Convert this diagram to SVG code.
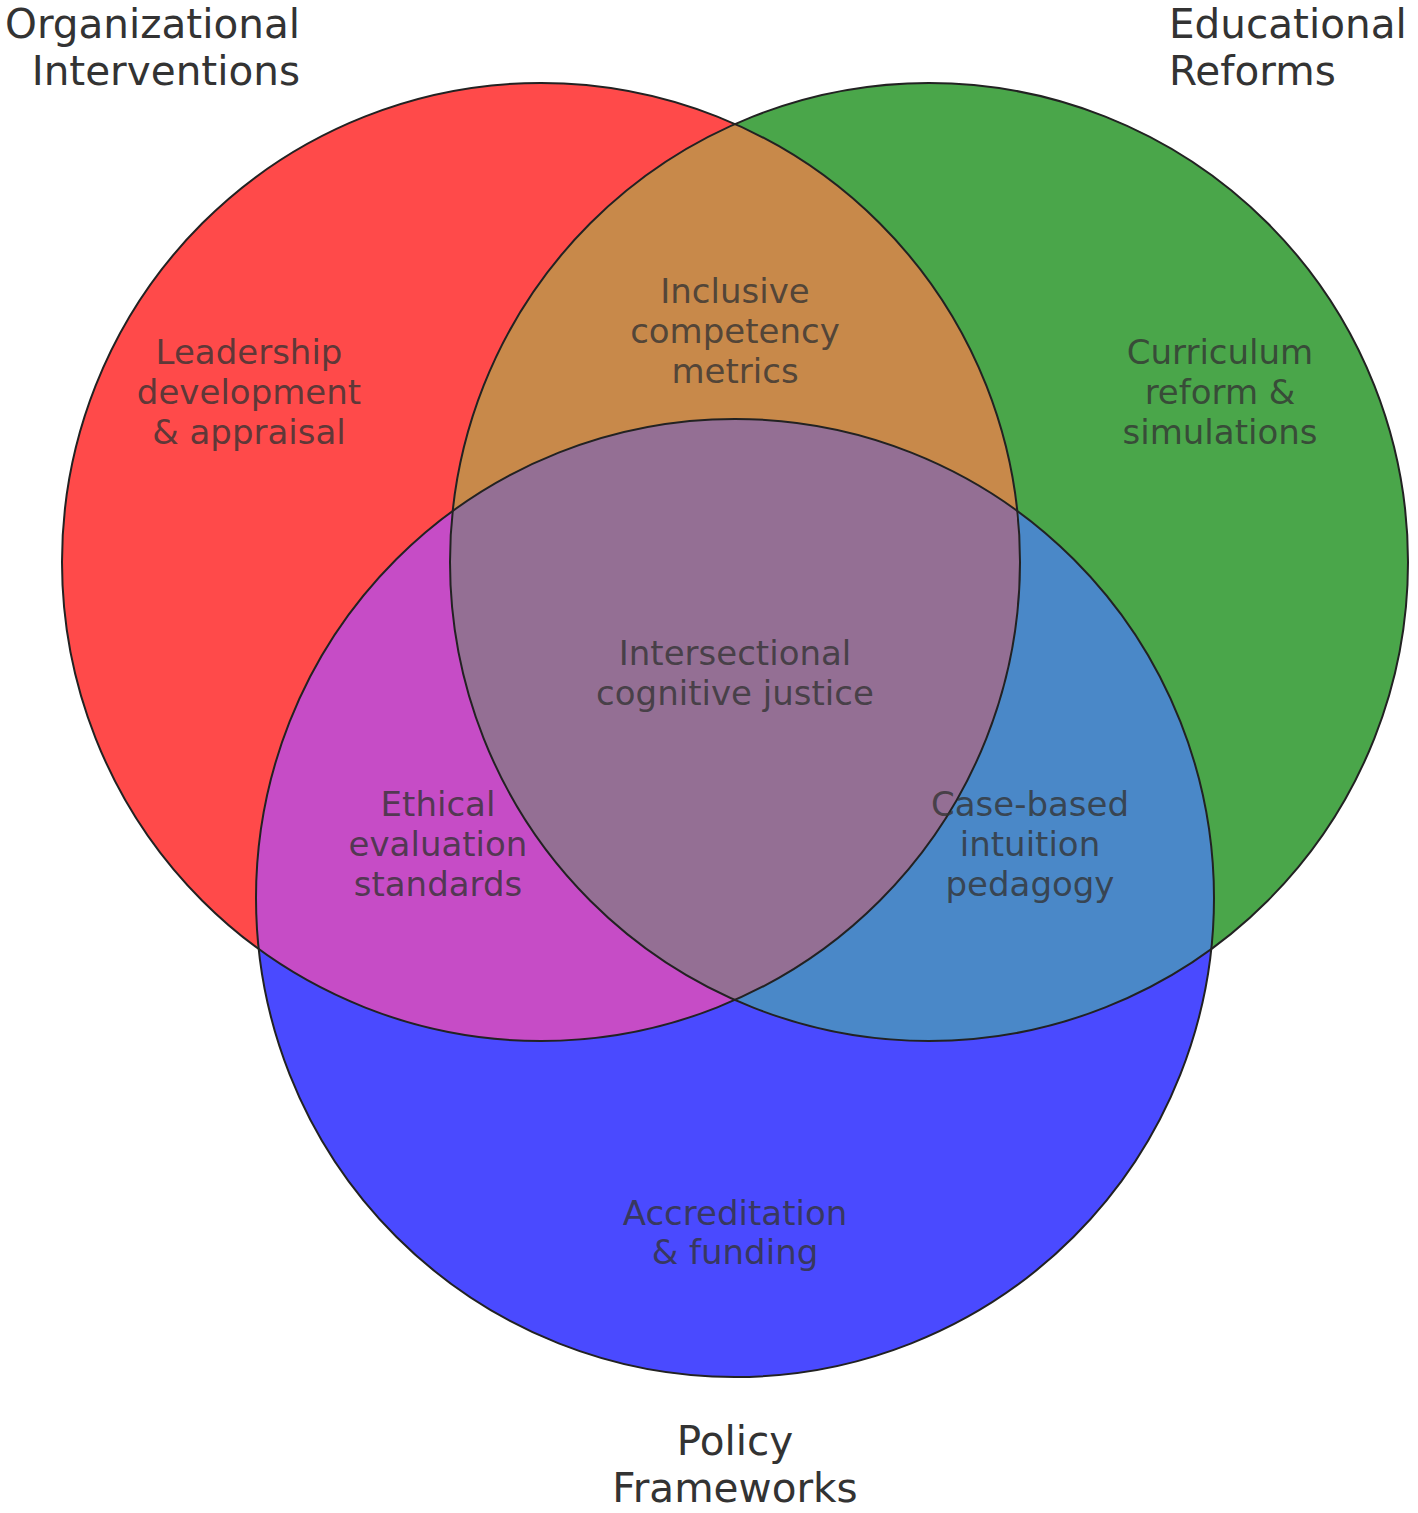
<svg xmlns="http://www.w3.org/2000/svg" width="1418" height="1513" viewBox="0 0 1418 1513">
<style>
.region{stroke:none}
.outline{fill:none;stroke:#222;stroke-width:2}
.set{font-family:"DejaVu Sans","Liberation Sans",sans-serif;font-size:40.5px;fill:#333}
.lbl{font-family:"DejaVu Sans","Liberation Sans",sans-serif;font-size:34px;fill:#333;fill-opacity:0.8;text-anchor:middle}
</style>
<rect width="1418" height="1513" fill="#ffffff"/>
<g id="regions">
<g id="region-A"><path class="region" fill="#FF4A4A" d="M735,124 A479,479 0 0 0 258.7,949 A479,479 0 0 1 452.7,511 A479,479 0 0 1 735,124 Z"/></g>
<g id="region-B"><path class="region" fill="#4AA64A" d="M735,124 A479,479 0 0 1 1211.3,949 A479,479 0 0 0 1017.3,511 A479,479 0 0 0 735,124 Z"/></g>
<g id="region-C"><path class="region" fill="#4A4AFF" d="M258.7,949 A479,479 0 0 0 1211.3,949 A479,479 0 0 1 735,1000 A479,479 0 0 1 258.7,949 Z"/></g>
<g id="region-AB"><path class="region" fill="#C8894A" d="M735,124 A479,479 0 0 0 452.7,511 A479,479 0 0 1 1017.3,511 A479,479 0 0 0 735,124 Z"/></g>
<g id="region-AC"><path class="region" fill="#C64CC6" d="M258.7,949 A479,479 0 0 1 452.7,511 A479,479 0 0 0 735,1000 A479,479 0 0 1 258.7,949 Z"/></g>
<g id="region-BC"><path class="region" fill="#4A88C8" d="M1211.3,949 A479,479 0 0 0 1017.3,511 A479,479 0 0 1 735,1000 A479,479 0 0 0 1211.3,949 Z"/></g>
<g id="region-ABC"><path class="region" fill="#946F94" d="M452.7,511 A479,479 0 0 1 1017.3,511 A479,479 0 0 1 735,1000 A479,479 0 0 1 452.7,511 Z"/></g>
</g>
<g id="outlines">
<circle class="outline" cx="541" cy="562" r="479"/>
<circle class="outline" cx="929" cy="562" r="479"/>
<circle class="outline" cx="735" cy="898" r="479"/>
</g>
<g id="connectors"></g>
<g id="set-labels">
<g id="set-A"><text class="set" text-anchor="end"><tspan x="300" y="38">Organizational</tspan><tspan x="300" y="85">Interventions</tspan></text></g>
<g id="set-B"><text class="set" text-anchor="start"><tspan x="1169" y="38">Educational</tspan><tspan x="1169" y="85">Reforms</tspan></text></g>
<g id="set-C"><text class="set" text-anchor="middle"><tspan x="735" y="1455">Policy</tspan><tspan x="735" y="1502">Frameworks</tspan></text></g>
</g>
<g id="region-labels">
<g id="label-A"><text class="lbl"><tspan x="249" y="364">Leadership</tspan><tspan x="249" y="404">development</tspan><tspan x="249" y="444">&amp; appraisal</tspan></text></g>
<g id="label-AB"><text class="lbl"><tspan x="735" y="303">Inclusive</tspan><tspan x="735" y="343">competency</tspan><tspan x="735" y="383">metrics</tspan></text></g>
<g id="label-B"><text class="lbl"><tspan x="1220" y="364">Curriculum</tspan><tspan x="1220" y="404">reform &amp;</tspan><tspan x="1220" y="444">simulations</tspan></text></g>
<g id="label-ABC"><text class="lbl"><tspan x="735" y="665">Intersectional</tspan><tspan x="735" y="705">cognitive justice</tspan></text></g>
<g id="label-AC"><text class="lbl"><tspan x="438" y="816">Ethical</tspan><tspan x="438" y="856">evaluation</tspan><tspan x="438" y="896">standards</tspan></text></g>
<g id="label-BC"><text class="lbl"><tspan x="1030" y="816">Case-based</tspan><tspan x="1030" y="856">intuition</tspan><tspan x="1030" y="896">pedagogy</tspan></text></g>
<g id="label-C"><text class="lbl"><tspan x="735" y="1225">Accreditation</tspan><tspan x="735" y="1264">&amp; funding</tspan></text></g>
</g>
</svg>
